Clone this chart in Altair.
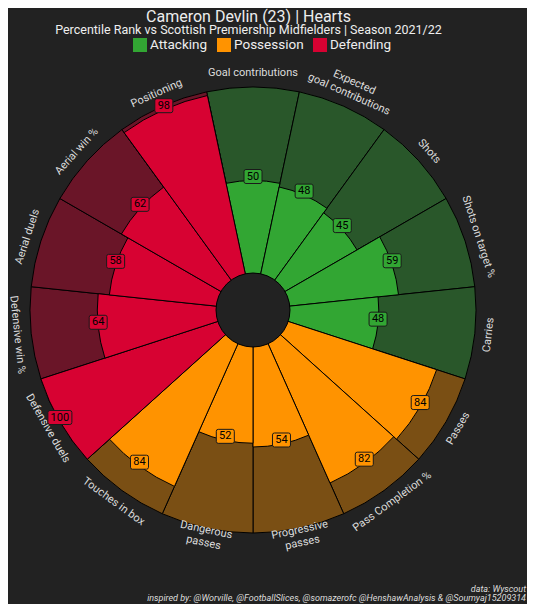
import math
import altair as alt
import pandas as pd

# ---------------- data ----------------
params = ["Goal contributions", "Expected\ngoal contributions", "Shots", "Shots on target %", "Carries",
          "Passes", "Pass Completion %", "Progressive\npasses", "Dangerous\npasses", "Touches in box",
          "Defensive duels", "Defensive win %", "Aerial duels", "Aerial win %", "Positioning"]
values = [50, 48, 45, 59, 48, 84, 82, 54, 52, 84, 100, 64, 58, 62, 98]
groups = ["Attacking"] * 5 + ["Possession"] * 5 + ["Defending"] * 5
group_names = ["Attacking", "Possession", "Defending"]

title_text = "Cameron Devlin (23) | Hearts"
subtitle_text = "Percentile Rank vs Scottish Premiership Midfielders | Season 2021/22"
credit1 = "data: Wyscout"
credit2 = "inspired by: @Worville, @FootballSlices, @somazerofc @HenshawAnalysis & @Soumyaj15209314"

# ---------------- styles / layout ----------------
group_colors = ["#32a633", "#ff9300", "#d70232"]
group_bg = {"Attacking": "#29572a", "Possession": "#7a4f14", "Defending": "#6a1528"}
BG = "#222222"
FONT = "Roboto"

W, H = 519, 596
CX, CY = 245, 302
R0, R1 = 36, 223
LABEL_R = 237

n = len(params)
df = pd.DataFrame({"i": list(range(n)), "param": params, "value": values, "group": groups})
df["i2"] = df["i"] + 1
df["mid"] = df["i"] + 0.5
df["base"] = 0
df["top"] = 100
deg = [i * 360 / n for i in range(n)]
df["rot"] = [(d if (d < 90 or d > 270) else d - 180) % 360 for d in deg]
df["multi"] = ["\n" in p for p in params]

theta_scale = alt.Scale(domain=[0, n], range=[-math.pi / n, 2 * math.pi - math.pi / n], nice=False, zero=False)
r_scale = alt.Scale(type="linear", domain=[0, 100], range=[R0, R1], nice=False)
x_scale = alt.Scale(domain=[-CX, W - CX], nice=False, zero=False)
y_scale = alt.Scale(domain=[-(H - CY), CY], nice=False, zero=False)
color_scale = alt.Scale(domain=group_names, range=group_colors)
# background scale uses a different domain order so its (disabled) legend is not merged with the colour legend
bg_order = sorted(group_names)
bg_scale = alt.Scale(domain=bg_order, range=[group_bg[g] for g in bg_order])
legend = alt.Legend(
    orient="none", legendX=125, legendY=30, direction="horizontal", title=None,
    symbolType="square", symbolSize=196, symbolStrokeWidth=0, symbolOpacity=1,
    labelFontSize=13.5, labelFont=FONT, labelColor="#eeeeee", labelOffset=3,
    columnPadding=9, gridAlign="none")

base = alt.Chart(df)

bg = base.mark_arc(stroke="#000000", strokeWidth=1).encode(
    x=alt.value(CX), y=alt.value(CY),
    theta=alt.Theta("i:Q", scale=theta_scale, stack=False),
    theta2="i2:Q",
    radius=alt.Radius("top:Q", scale=r_scale, stack=False),
    radius2="base:Q",
    fill=alt.Fill("group:N", scale=bg_scale, legend=None),
)

bars = base.mark_arc(stroke="#000000", strokeWidth=1).encode(
    x=alt.value(CX), y=alt.value(CY),
    theta=alt.Theta("i:Q", scale=theta_scale, stack=False),
    theta2="i2:Q",
    radius=alt.Radius("value:Q", scale=r_scale, stack=False),
    radius2="base:Q",
    color=alt.Color("group:N", scale=color_scale, legend=legend),
)

hole = alt.Chart(pd.DataFrame({"k": [0]})).mark_arc(
    fill=BG, stroke="#000000", strokeWidth=1, theta=0, theta2=2 * math.pi, radius=37
).encode(x=alt.value(CX), y=alt.value(CY))

label_enc = dict(
    x=alt.value(CX), y=alt.value(CY),
    theta=alt.Theta("mid:Q", scale=theta_scale, stack=False),
    text="param:N",
    angle=alt.Angle("rot:Q", scale=None),
)
labels1 = base.transform_filter("!datum.multi").mark_text(
    radius=LABEL_R, fontSize=11, font=FONT, color="#dcdcdc", align="center", baseline="middle"
).encode(**label_enc)
labels2 = base.transform_filter("datum.multi").mark_text(
    radius=LABEL_R, lineBreak="\n", dy=-12, fontSize=11, font=FONT, color="#dcdcdc",
    align="center", baseline="middle"
).encode(**label_enc)

k = (R1 - R0) / 100
pos = base.transform_calculate(
    px=f"({R0} + datum.value * {k}) * sin(datum.i * 2 * PI / {n})",
    py=f"({R0} + datum.value * {k}) * cos(datum.i * 2 * PI / {n}) + 4",
)


def rr(hh, c):
    return (f"M{-1 + c},{-hh}L{1 - c},{-hh}Q1,{-hh} 1,{-hh + c}L1,{hh - c}Q1,{hh} {1 - c},{hh}"
            f"L{-1 + c},{hh}Q-1,{hh} -1,{hh - c}L-1,{-hh + c}Q-1,{-hh} {-1 + c},{-hh}Z")


xy = dict(x=alt.X("px:Q", scale=x_scale, axis=None), y=alt.Y("py:Q", scale=y_scale, axis=None))

boxes2 = pos.transform_filter("datum.value < 100").mark_point(
    shape=rr(7 / 9, 0.22), size=324, filled=True, opacity=1, stroke="#1a1a1a", strokeWidth=1
).encode(color=alt.Color("group:N", scale=color_scale, legend=legend), **xy)

boxes3 = pos.transform_filter("datum.value >= 100").mark_point(
    shape=rr(7 / 12, 0.17), size=576, filled=True, opacity=1, stroke="#1a1a1a", strokeWidth=1
).encode(color=alt.Color("group:N", scale=color_scale, legend=legend), **xy)

vals = pos.mark_text(fontSize=11, font=FONT, color="#000000", align="center", baseline="middle").encode(
    text="value:Q", **xy)

t1 = alt.Chart(pd.DataFrame({"t": [title_text]})).mark_text(
    fontSize=16, font=FONT, color="#eeeeee", align="center", baseline="middle"
).encode(x=alt.value(240.5), y=alt.value(8.5), text="t:N")

t2 = alt.Chart(pd.DataFrame({"t": [subtitle_text]})).mark_text(
    fontSize=12.5, font=FONT, color="#eeeeee", align="center", baseline="middle"
).encode(x=alt.value(240.5), y=alt.value(21.5), text="t:N")

f1 = alt.Chart(pd.DataFrame({"t": [credit1]})).mark_text(
    fontSize=9, font=FONT, fontStyle="italic", color="#dddddd", align="right", baseline="middle"
).encode(x=alt.value(W - 1), y=alt.value(581), text="t:N")

f2 = alt.Chart(pd.DataFrame({"t": [credit2]})).mark_text(
    fontSize=9, font=FONT, fontStyle="italic", color="#dddddd", align="right", baseline="middle"
).encode(x=alt.value(W - 1), y=alt.value(590), text="t:N")

chart = alt.layer(bg, bars, hole, labels1, labels2, boxes2, boxes3, vals, t1, t2, f1, f2).properties(
    width=W, height=H, autosize=alt.AutoSizeParams(type="none"), padding=0, background=BG
).configure_view(stroke=None)

chart.save("out.html", embed_options={"renderer": "svg", "actions": False})
